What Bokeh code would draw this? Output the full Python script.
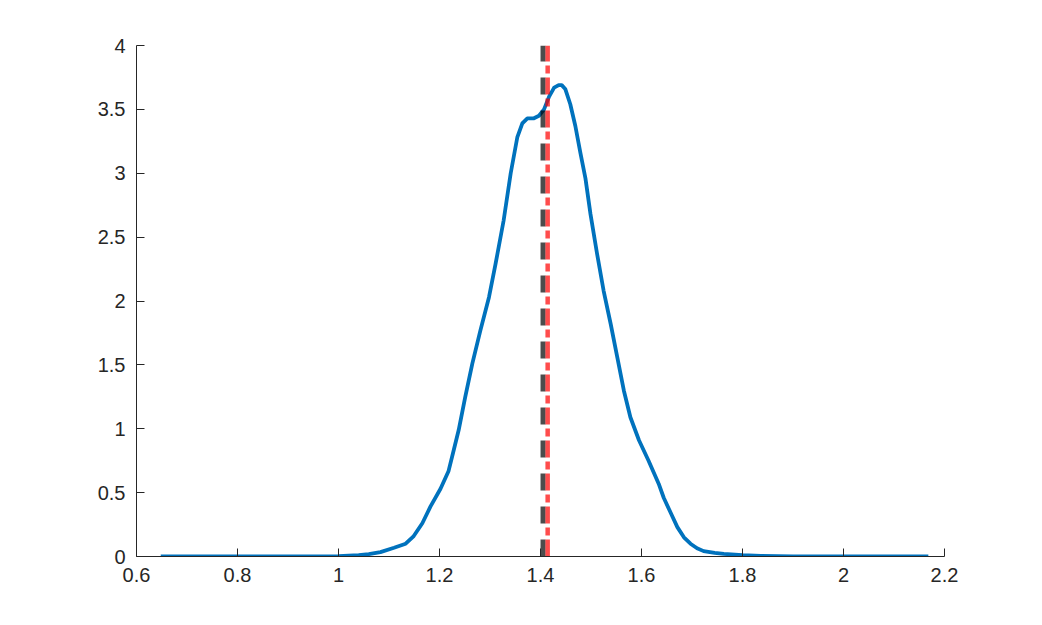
from bokeh.plotting import figure
from bokeh.models import Range1d, FixedTicker
from bokeh.embed import file_html
from bokeh.resources import INLINE

# density curve
density_x = [0.648, 0.80, 0.95, 1.00, 1.04, 1.06, 1.083, 1.110, 1.133, 1.149, 1.166, 1.182,
             1.202, 1.218, 1.228, 1.238, 1.251, 1.265, 1.281, 1.298, 1.311, 1.327, 1.341,
             1.354, 1.364, 1.374, 1.387, 1.397, 1.407, 1.417, 1.427, 1.436, 1.442, 1.449,
             1.459, 1.469, 1.479, 1.489, 1.499, 1.512, 1.525, 1.539, 1.552, 1.565, 1.578,
             1.595, 1.614, 1.634, 1.644, 1.658, 1.671, 1.684, 1.697, 1.710, 1.723, 1.745,
             1.763, 1.800, 1.836, 1.90, 2.00, 2.168]
density_y = [0.0, 0.0, 0.0, 0.003, 0.01, 0.018, 0.034, 0.068, 0.10, 0.16, 0.26, 0.39,
             0.53, 0.67, 0.83, 0.99, 1.25, 1.51, 1.77, 2.03, 2.29, 2.63, 3.00,
             3.28, 3.39, 3.43, 3.43, 3.45, 3.50, 3.60, 3.67, 3.69, 3.69, 3.66,
             3.54, 3.37, 3.16, 2.96, 2.68, 2.37, 2.08, 1.82, 1.56, 1.30, 1.09,
             0.91, 0.75, 0.57, 0.46, 0.34, 0.23, 0.15, 0.10, 0.065, 0.042, 0.028,
             0.02, 0.01, 0.005, 0.001, 0.0, 0.0]

mean_value = 1.405
true_value = 1.4142

x_ticks = [0.6, 0.8, 1.0, 1.2, 1.4, 1.6, 1.8, 2.0, 2.2]
y_ticks = [0, 0.5, 1, 1.5, 2, 2.5, 3, 3.5, 4]

FONT = "Liberation Sans"
TXT = "#262626"

p = figure(width=1026, height=609, output_backend="svg", toolbar_location=None,
           x_range=Range1d(0.6, 2.2), y_range=Range1d(0, 4),
           min_border_left=136, min_border_right=82, min_border_top=45, min_border_bottom=53)
p.outline_line_color = None
p.grid.visible = False
p.background_fill_color = "white"
p.border_fill_color = "white"

for ax in (p.xaxis[0], p.yaxis[0]):
    ax.axis_line_color = TXT
    ax.axis_line_width = 1
    ax.major_tick_line_color = TXT
    ax.major_tick_in = 8
    ax.major_tick_out = 0
    ax.minor_tick_line_color = None
    ax.major_label_text_font = FONT
    ax.major_label_text_font_size = "20px"
    ax.major_label_text_color = TXT

p.xaxis[0].ticker = FixedTicker(ticks=x_ticks)
p.yaxis[0].ticker = FixedTicker(ticks=y_ticks)
p.xaxis[0].major_label_overrides = {t: ("%g" % t) for t in x_ticks}
p.yaxis[0].major_label_overrides = {t: ("%g" % t) for t in y_ticks}
p.xaxis[0].major_label_standoff = 11
p.yaxis[0].major_label_standoff = 11

p.line(density_x, density_y, line_color="#0072BD", line_width=3.8, line_join="round")
p.line([mean_value, mean_value], [0, 4], line_color="black", line_alpha=0.7,
       line_width=5, line_dash="17 16")
p.line([true_value, true_value], [0, 4], line_color="#ff0000", line_alpha=0.7,
       line_width=4.5, line_dash="17 4 8 4")

open("out.html", "w").write(file_html(p, INLINE))
